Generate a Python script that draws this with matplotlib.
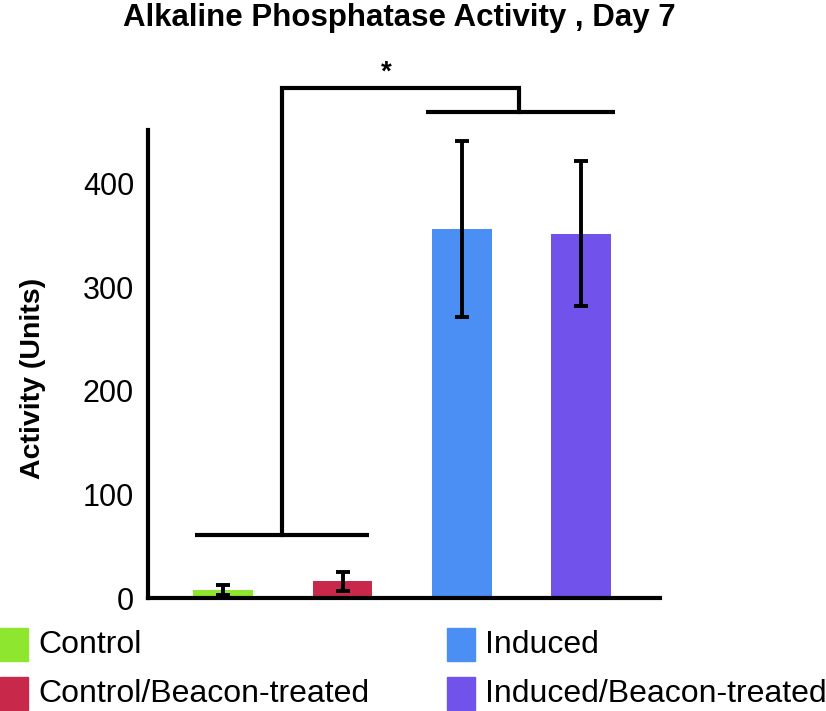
import numpy as np
import matplotlib
matplotlib.use("Agg")
import matplotlib.pyplot as plt
from matplotlib.patches import Rectangle

plt.rcParams['font.family'] = ['Liberation Sans', 'DejaVu Sans']

# data
groups = ['Control', 'Control/Beacon-treated', 'Induced', 'Induced/Beacon-treated']
activity = [8, 16, 356, 352]
err = [5, 9.5, 85, 70]
colors = ['#8ee62e', '#c8294b', '#4b8ff5', '#7152eb']
yticks = [0, 100, 200, 300, 400]
title = 'Alkaline Phosphatase Activity , Day 7'
ylabel = 'Activity (Units)'

fig = plt.figure(figsize=(8.26, 7.11), dpi=100)
W, H = 826, 711
# axes box in pixels: left 148, bottom line y=598, right 660, top y=130
ax = fig.add_axes([148 / W, 1 - 598 / H, (660 - 148) / W, (598 - 130) / H])

x = np.arange(len(groups))
ax.bar(x, activity, width=0.5, color=colors, zorder=2)
ax.errorbar(x, activity, yerr=err, fmt='none', ecolor='black', elinewidth=2.8,
            capsize=5, capthick=2.8, zorder=3)

ax.set_xlim(-0.63, 3.66)
ax.set_ylim(0, 452)
ax.set_yticks(yticks)
ax.set_yticklabels([str(t) for t in yticks], fontsize=22)
ax.tick_params(axis='y', length=0, pad=10)
ax.set_xticks([])
for s in ['top', 'right']:
    ax.spines[s].set_visible(False)
for s in ['left', 'bottom']:
    ax.spines[s].set_linewidth(3)

# significance brackets
lw = 3
ax.plot([-0.24, 1.22], [61, 61], color='black', lw=lw, clip_on=False, solid_capstyle='butt')
ax.plot([1.70, 3.28], [469, 469], color='black', lw=lw, clip_on=False, solid_capstyle='butt')
ax.plot([0.49, 0.49, 2.48, 2.48], [61, 493, 493, 469], color='black', lw=lw,
        clip_on=False, solid_joinstyle='miter')
ax.text(1.37, 495, '*', ha='center', va='bottom', fontsize=20, fontweight='bold')

fig.text(399 / W, 1 - 18 / H, title, ha='center', va='center', fontsize=22.5,
         fontweight='bold')
fig.text(33 / W, 1 - 378 / H, ylabel, ha='center', va='center', rotation=90,
         fontsize=20.5, fontweight='bold')

# legend drawn by hand
leg_x = [0, 447]
leg_y = [645, 694]
for i, (g, c) in enumerate(zip(groups, colors)):
    col, row = i // 2, i % 2
    px, py = leg_x[col], leg_y[row]
    fig.patches.append(Rectangle((px / W, 1 - (py + 16) / H), 28 / W, 33 / H,
                                 transform=fig.transFigure, color=c))
    fig.text((px + 38) / W, 1 - py / H, g, ha='left', va='center', fontsize=23)

fig.savefig('out.png', dpi=100)
